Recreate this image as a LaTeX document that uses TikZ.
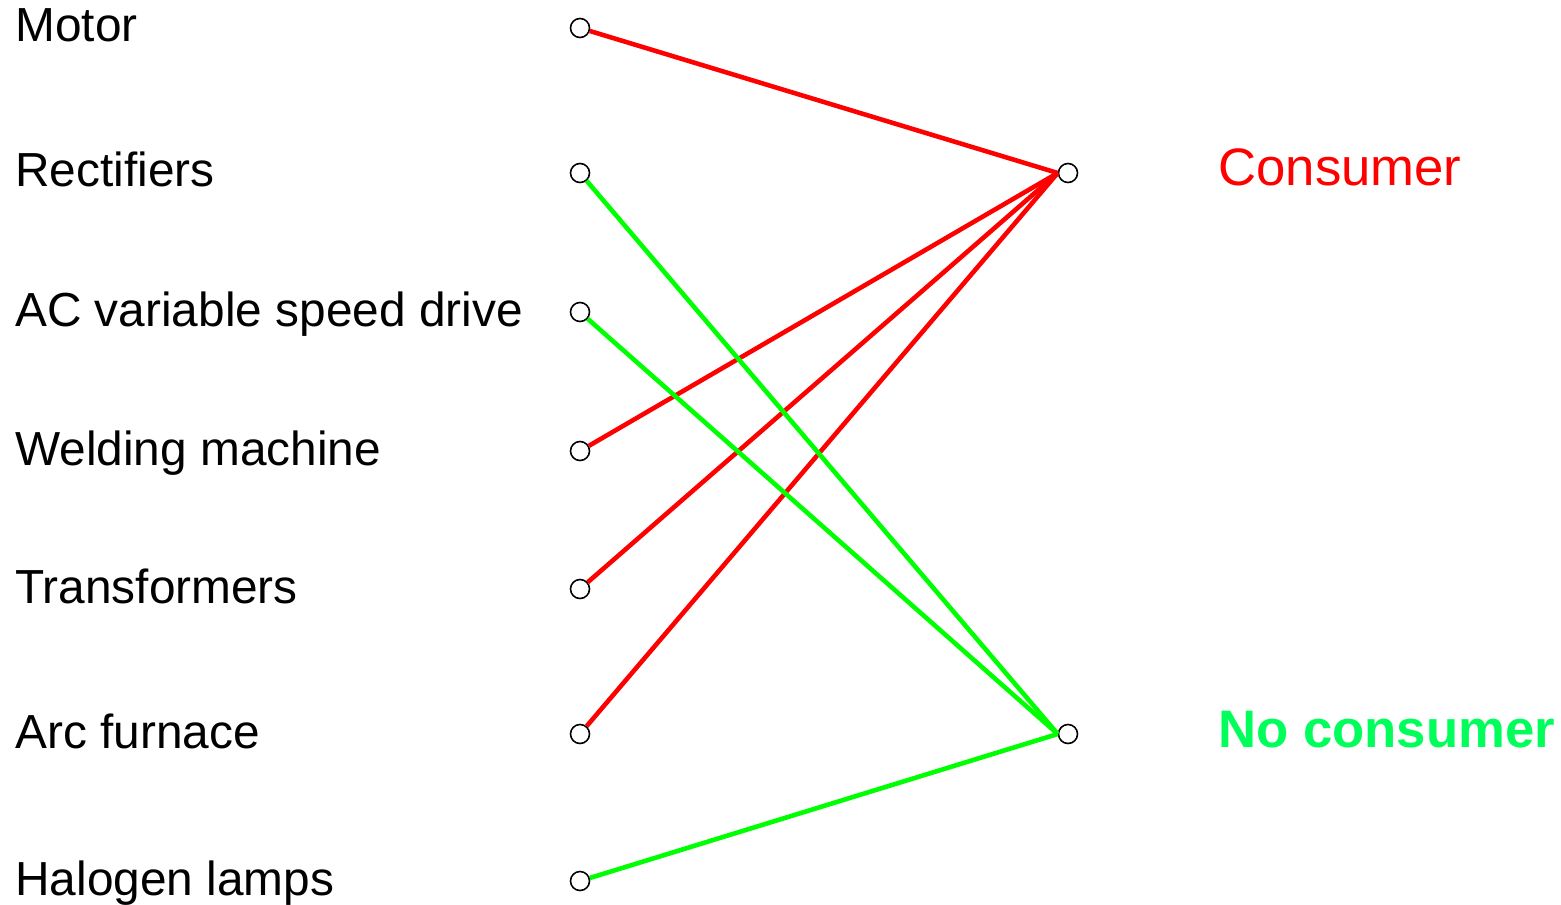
\documentclass[tikz,border=0pt]{standalone}
\usepackage{fontspec}
\setmainfont{Liberation Sans}
\usetikzlibrary{positioning}
\definecolor{nocgreen}{RGB}{0,255,90}

\begin{document}
\begin{tikzpicture}[
dot/.style={circle, draw=black, line width=0.9pt, minimum size=0.38cm, inner sep=0pt},
item/.style={anchor=base west, inner sep=0pt, font=\fontsize{27.2}{30}\selectfont},
group/.style={anchor=base west, inner sep=0pt, font=\fontsize{30}{34}\selectfont},
yes/.style={red, line width=2.6pt},
no/.style={green, line width=2.6pt}
]
\useasboundingbox (0,0) rectangle (31.22,-18.1);

% loads
\node[dot] (motor) at (11.6,-0.56) {};
\node[dot] (rect)  at (11.6,-3.46) {};
\node[dot] (acvsd) at (11.6,-6.24) {};
\node[dot] (weld)  at (11.6,-9.02) {};
\node[dot] (trafo) at (11.6,-11.78) {};
\node[dot] (arc)   at (11.6,-14.68) {};
\node[dot] (halo)  at (11.6,-17.62) {};

\node[item] (motorlbl) at (0.3,-0.84) {Motor};
\node[item] (rectlbl)  at (0.3,-3.74) {Rectifiers};
\node[item] (acvsdlbl) at (0.3,-6.52) {AC variable speed drive};
\node[item] (weldlbl)  at (0.3,-9.30) {Welding machine};
\node[item] (trafolbl) at (0.3,-12.06) {Transformers};
\node[item] (arclbl)   at (0.3,-14.96) {Arc furnace};
\node[item] (halolbl)  at (0.3,-17.90) {Halogen lamps};

% classes
\node[dot] (cons)   at (21.36,-3.46) {};
\node[dot] (nocons) at (21.36,-14.68) {};

\node[group, text=red] (conslbl) at (24.36,-3.72) {Consumer};
\node[group, text=nocgreen, font=\fontsize{30}{34}\selectfont\bfseries] (noconslbl) at (24.36,-14.94) {No consumer};

\draw[yes] (motor) -- (cons.west);
\draw[yes] (weld)  -- (cons.west);
\draw[yes] (trafo) -- (cons.west);
\draw[yes] (arc)   -- (cons.west);
\draw[no] (rect)  -- (nocons.west);
\draw[no] (acvsd) -- (nocons.west);
\draw[no] (halo)  -- (nocons.west);
\end{tikzpicture}
\end{document}
